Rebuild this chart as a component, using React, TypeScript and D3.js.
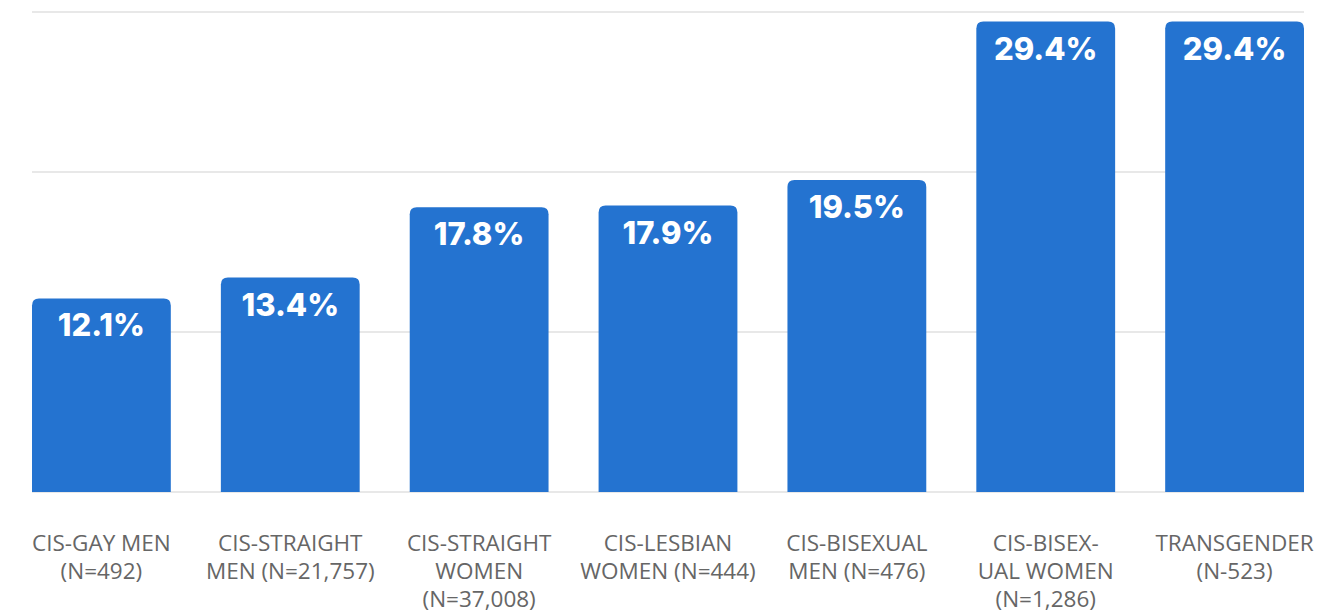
import React from "react";
import * as d3 from "d3";

const categories: string[] = [
  "CIS-GAY MEN (N=492)",
  "CIS-STRAIGHT MEN (N=21,757)",
  "CIS-STRAIGHT WOMEN (N=37,008)",
  "CIS-LESBIAN WOMEN (N=444)",
  "CIS-BISEXUAL MEN (N=476)",
  "CIS-BISEXUAL WOMEN (N=1,286)",
  "TRANSGENDER (N-523)",
];

const categoryLines: string[][] = [
  ["CIS-GAY MEN", "(N=492)"],
  ["CIS-STRAIGHT", "MEN (N=21,757)"],
  ["CIS-STRAIGHT", "WOMEN", "(N=37,008)"],
  ["CIS-LESBIAN", "WOMEN (N=444)"],
  ["CIS-BISEXUAL", "MEN (N=476)"],
  ["CIS-BISEX-", "UAL WOMEN", "(N=1,286)"],
  ["TRANSGENDER", "(N-523)"],
];

const values: number[] = [12.1, 13.4, 17.8, 17.9, 19.5, 29.4, 29.4];

const gridTicks: number[] = [0, 10, 20, 30];

const W = 1343;
const H = 613;

function topRoundedRect(x: number, y: number, w: number, h: number, r: number) {
  const rr = Math.min(r, w / 2, h);
  return `M${x},${y + h}V${y + rr}Q${x},${y} ${x + rr},${y}H${x + w - rr}Q${x + w},${y} ${x + w},${y + rr}V${y + h}Z`;
}

export default function App() {
  const x = d3
    .scaleBand<string>()
    .domain(categories)
    .range([32, 1304])
    .paddingInner(0.265)
    .paddingOuter(0);
  const y = d3.scaleLinear().domain([0, 30]).range([492, 12]);

  return (
    <div style={{ position: "absolute", left: 0, top: 0 }}>
      <svg width={W} height={H} style={{ display: "block", background: "#fff" }}>
        <g>
          {gridTicks.map((t) => (
            <line
              key={t}
              x1={32}
              x2={1304}
              y1={y(t)}
              y2={y(t)}
              stroke="#e8e8e8"
              strokeWidth={2}
            />
          ))}
        </g>
        <g>
          {categories.map((c, i) => {
            const bx = x(c) as number;
            const bw = x.bandwidth();
            const top = y(values[i]);
            return (
              <g key={c}>
                <path
                  d={topRoundedRect(bx, top, bw, y(0) - top, 7)}
                  fill="#2473d0"
                />
                <text
                  x={bx + bw / 2}
                  y={top + 38}
                  textAnchor="middle"
                  fill="#ffffff"
                  fontFamily="Inter, 'Open Sans', sans-serif"
                  fontWeight={800}
                  fontSize={31}
                >
                  {values[i].toFixed(1)}%
                </text>
              </g>
            );
          })}
        </g>
        <g>
          {categories.map((c, i) => {
            const cx = (x(c) as number) + x.bandwidth() / 2;
            return (
              <text
                key={c}
                textAnchor="middle"
                fill="#666666"
                fontFamily="'Open Sans', sans-serif"
                fontSize={22.5}
              >
                {categoryLines[i].map((line, j) => (
                  <tspan key={j} x={cx} y={551 + j * 28}>
                    {line}
                  </tspan>
                ))}
              </text>
            );
          })}
        </g>
      </svg>
    </div>
  );
}
